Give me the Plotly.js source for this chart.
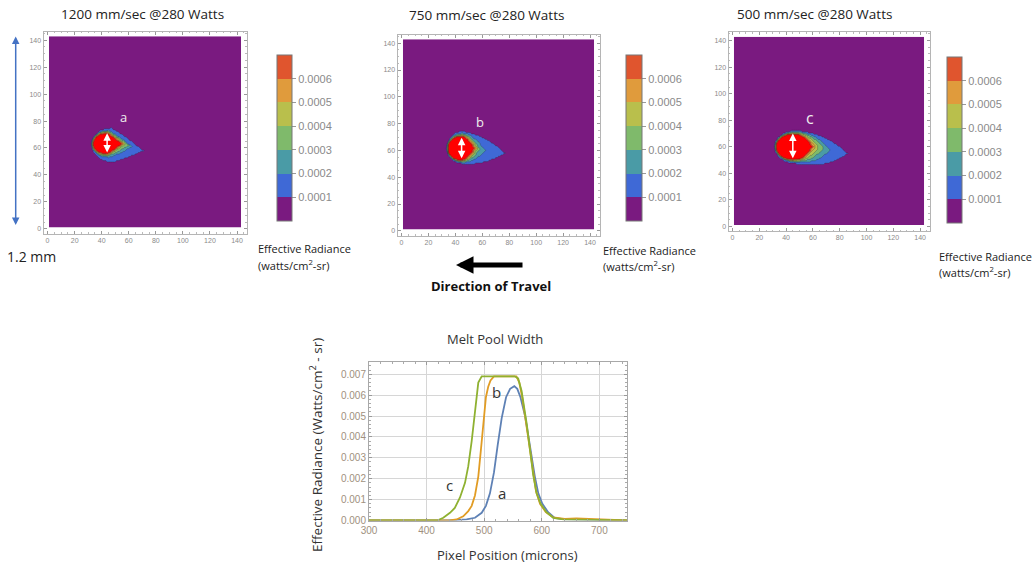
<!DOCTYPE html>
<html><head><meta charset="utf-8">
<script src="https://cdn.plot.ly/plotly-3.0.1.min.js"></script>
<style>html,body{margin:0;padding:0;background:#fff}#chart{width:1036px;height:567px}</style>
</head><body><div id="chart"></div>
<script>
// ================= DATA =================
// contour levels (effective radiance, watts/cm2-sr)
const levels = [0.0001, 0.0002, 0.0003, 0.0004, 0.0005, 0.0006, 0.0007];
const levelLabels = ['0.0001', '0.0002', '0.0003', '0.0004', '0.0005', '0.0006'];
const panelTitles = ['1200 mm/sec @280 Watts', '750 mm/sec @280 Watts', '500 mm/sec @280 Watts'];
const panelLetters = ['a', 'b', 'c'];
const gridTicks = [0, 20, 40, 60, 80, 100, 120, 140];

// extents of each contour level (pixels)
// panel a : 1200 mm/sec
const aLeft   = [32.3, 32.6, 32.8, 33.0, 33.2, 33.4, 33.8];
const aRight  = [71.0, 62.5, 60.0, 57.5, 56.2, 55.5, 54.5];
const aPeak   = [47.0, 45.0, 44.0, 44.0, 44.0, 44.0, 43.5];
const aTop    = [12.0, 10.0, 9.5, 9.0, 8.6, 8.3, 8.0];
const aBottom = [13.5, 10.0, 9.0, 8.5, 8.0, 7.8, 7.5];
const aTipDrop = [-5, -2, -1, 0, 0, 0, 0];
const aCenterY = 63;
const aTaper = 1.2;
// panel b : 750 mm/sec
const bLeft   = [33.5, 33.7, 33.9, 34.0, 34.1, 34.2, 34.3];
const bRight  = [77.0, 62.0, 58.2, 56.5, 55.5, 54.5, 53.5];
const bPeak   = [45.0, 45.0, 45.0, 44.5, 44.5, 44.5, 44.0];
const bTop    = [12.8, 11.5, 10.5, 10.0, 9.6, 9.3, 9.0];
const bBottom = [11.5, 10.5, 10.0, 9.6, 9.3, 9.1, 8.8];
const bTipDrop = [-3.5, -1.5, -0.5, 0, 0, 0, 0];
const bCenterY = 61.5;
const bTaper = 2.0;
// panel c : 500 mm/sec
const cLeft   = [31.1, 31.5, 31.8, 32.0, 32.2, 32.3, 32.4];
const cRight  = [86.0, 72.9, 67.9, 64.2, 61.7, 60.3, 59.2];
const cPeak   = [48.0, 47.0, 46.0, 45.5, 45.0, 45.0, 45.0];
const cTop    = [12.5, 11.5, 10.8, 10.3, 10.0, 9.7, 9.5];
const cBottom = [13.0, 11.5, 11.0, 10.5, 10.2, 10.0, 9.8];
const cTipDrop = [-5, -2.5, -1, -0.5, 0, 0, 0];
const cCenterY = 60;
const cTaper = 2.5;

// white width arrows and letter labels (pixel coords)
const widthArrowX = [44, 44.6, 45];
const widthArrowTop = [71, 69.5, 70];
const widthArrowBottom = [55.5, 53, 50.2];
const letterX = [55.8, 58.2, 57.9];
const letterY = [83, 81, 81.6];

// Melt pool width profiles
const xA = [300, 440, 469.6, 484, 495.7, 503, 510, 517, 523.4, 530.4, 538, 545, 552.3, 557.5, 563, 571, 577, 582, 588, 594, 601, 611, 622, 640, 700, 748];
const yA = [0, 0, 0.00005, 0.00013, 0.00037, 0.0007, 0.0013, 0.0023, 0.0036, 0.0049, 0.0059, 0.0063, 0.00643, 0.0063, 0.0059, 0.005, 0.004, 0.0031, 0.0021, 0.0013, 0.0008, 0.0004, 0.00013, 0.00005, 0.00001, 0];
const xB = [300, 440, 452, 463.6, 472.4, 478.3, 484, 489.8, 494.4, 498.5, 503, 507, 511, 517, 535, 556, 561, 566, 572, 578, 584, 590, 597, 607, 620, 640, 660, 680, 700, 748];
const yB = [0, 0, 0.00005, 0.0002, 0.00045, 0.0007, 0.0012, 0.0021, 0.0034, 0.0047, 0.0059, 0.0064, 0.0067, 0.0069, 0.0069, 0.0069, 0.0066, 0.0059, 0.0048, 0.0036, 0.0024, 0.0014, 0.0008, 0.0004, 0.00015, 0.00008, 0.0001, 0.00008, 0.00003, 0];
const xC = [300, 410, 420.3, 429, 440.6, 449, 458, 466.7, 472.4, 478.3, 484, 489.8, 495.7, 520, 553, 559, 565, 570, 574, 580, 585, 591, 598, 608, 620, 637, 700, 748];
const yC = [0, 0, 0.00002, 0.00013, 0.00037, 0.0006, 0.0011, 0.0018, 0.0026, 0.0038, 0.0051, 0.0066, 0.0069, 0.0069, 0.0069, 0.0068, 0.0062, 0.0053, 0.0046, 0.0033, 0.0022, 0.0013, 0.0008, 0.0004, 0.00013, 0.00005, 0.00001, 0];
const seriesNames = ['a', 'b', 'c'];
const seriesColors = ['#5e81b5', '#e19c24', '#8fb131'];
const seriesLabelX = [531.4, 521.7, 440.6];
const seriesLabelY = [0.00133, 0.00615, 0.0017];

// ================= STYLE / HELPERS =================
const W = 1036, H = 567;
const px = v => v / W;
const py = v => 1 - v / H;
const bandColors = ['#7a1a80', '#3f69d6', '#4a9ba6', '#7fba6b', '#b9bf4c', '#e09b3c', '#e0552e', '#ff0000'];
const FONT = 'Open Sans, Liberation Sans, sans-serif';

function stepped(colors) {
  const n = colors.length, cs = [];
  colors.forEach((c, i) => { cs.push([i / n, c]); cs.push([(i + 1) / n, c]); });
  return cs;
}
// contour fill map samples band k at k/(n-1): build steps centered there
function centeredSteps(colors) {
  const n = colors.length, m = n - 1, cs = [];
  colors.forEach((c, i) => {
    const a = Math.max(0, (i - 0.5) / m), b = Math.min(1, (i + 0.5) / m);
    cs.push([a, c]); cs.push([b, c]);
  });
  return cs;
}

const grid = [];
for (let g = 1; g <= 143; g++) grid.push(g);

function buildField(p) {
  const z = [];
  for (const y of grid) {
    const row = [];
    for (const x of grid) {
      let v = 0;
      for (let k = 0; k < levels.length; k++) {
        const L = p.left[k], R = p.right[k], P = p.peak[k];
        if (x < L || x > R) continue;
        let h, yc = p.cy;
        if (x <= P) { const s = (P - x) / (P - L); h = Math.sqrt(Math.max(0, 1 - s * s)); }
        else { const t = (x - P) / (R - P); h = 1 - Math.pow(t, p.taper); yc = p.cy + p.drop[k] * t; }
        const dy = y - yc;
        const ok = dy >= 0 ? dy <= p.top[k] * h : -dy <= p.bottom[k] * h;
        if (ok) v = levels[k] + 0.00005;
      }
      row.push(v);
    }
    z.push(row);
  }
  return z;
}

const panels = [
  {left: aLeft, right: aRight, peak: aPeak, top: aTop, bottom: aBottom, drop: aTipDrop, cy: aCenterY, taper: aTaper},
  {left: bLeft, right: bRight, peak: bPeak, top: bTop, bottom: bBottom, drop: bTipDrop, cy: bCenterY, taper: bTaper},
  {left: cLeft, right: cRight, peak: cPeak, top: cTop, bottom: cBottom, drop: cTipDrop, cy: cCenterY, taper: cTaper}
];
// frame boxes (px): [x0, x1, y0(top), y1(bottom)]
const frames = [[43.5, 246.5, 31.5, 233.5], [397.5, 599.5, 34.5, 235.5], [728.5, 929.5, 32, 231]];
// colorbars (px): [x, yTop, len, thickness]
const cbars = [[277, 55, 166, 15], [626, 55, 166, 16], [947, 57, 166, 15]];
const cbTitles = [[256, 249, 265], [600.5, 250, 266], [937, 257, 272]];
const titlePos = [[142.5, 14], [486.5, 15], [814, 14]];

const traces = [];
const layout = {
  width: W, height: H, margin: {l: 0, r: 0, t: 0, b: 0},
  paper_bgcolor: '#fff', plot_bgcolor: '#fff', showlegend: false,
  font: {family: FONT, color: '#333'},
  annotations: []
};

function note(x, y, text, font, extra) {
  return Object.assign({xref: 'paper', yref: 'paper', x: px(x), y: py(y), text: text, showarrow: false,
    xanchor: 'center', yanchor: 'middle', font: font}, extra || {});
}

panels.forEach((p, i) => {
  const xa = i === 0 ? 'x' : 'x' + (i + 1);
  const ya = i === 0 ? 'y' : 'y' + (i + 1);
  traces.push({
    type: 'contour', x: grid, y: grid, z: buildField(p), xaxis: xa, yaxis: ya,
    autocontour: false,
    contours: {start: levels[0], end: levels[levels.length - 1], size: 0.0001, coloring: 'fill', showlines: true},
    colorscale: centeredSteps(bandColors),
    line: {width: 0.6, color: 'rgba(40,40,40,0.45)', smoothing: 0},
    showscale: false, hoverinfo: 'skip'
  });
  const cb = cbars[i];
  traces.push({
    type: 'scatter', mode: 'markers', x: [-1000], y: [-1000], xaxis: xa, yaxis: ya, hoverinfo: 'skip',
    marker: {
      color: [0], cmin: 0, cmax: levels[levels.length - 1], opacity: 0,
      colorscale: stepped(bandColors.slice(0, 7)), showscale: true,
      colorbar: {
        x: px(cb[0]), xanchor: 'left', y: py(cb[1]), yanchor: 'top',
        len: cb[2], lenmode: 'pixels', thickness: cb[3], thicknessmode: 'pixels',
        xpad: 0, ypad: 0, outlinewidth: 1, outlinecolor: '#777',
        tickvals: levels.slice(0, 6), ticktext: levelLabels,
        ticks: 'outside', ticklen: 4, tickcolor: '#999',
        tickfont: {size: 11, color: '#8a8a8a', family: 'Liberation Sans, Arial, sans-serif'}
      }
    }
  });
  const f = frames[i];
  const axCommon = {
    showgrid: false, zeroline: false, showline: true, linecolor: '#b5b5b5', linewidth: 1,
    mirror: 'ticks', ticks: 'inside', ticklen: 3, tickcolor: '#999',
    tickvals: gridTicks, tickfont: {size: 7, color: '#8a8a8a', family: 'Liberation Sans, Arial, sans-serif'},
    minor: {ticks: 'inside', dtick: 5, ticklen: 1.5, tickcolor: '#bbb'}
  };
  layout['xaxis' + (i === 0 ? '' : i + 1)] = Object.assign({}, axCommon, {
    domain: [px(f[0]), px(f[1])], range: [-3, 147], anchor: ya
  });
  layout['yaxis' + (i === 0 ? '' : i + 1)] = Object.assign({}, axCommon, {
    domain: [py(f[3]), py(f[2])], range: [-3.5, 146.5], anchor: xa
  });
  // panel title
  layout.annotations.push(note(titlePos[i][0], titlePos[i][1], panelTitles[i], {size: 13.5, color: '#222', family: FONT}));
  // colorbar title
  const ct = cbTitles[i];
  layout.annotations.push(note(ct[0], ct[1], 'Effective Radiance', {size: 11, color: '#222', family: FONT}, {xanchor: 'left'}));
  layout.annotations.push(note(ct[0], ct[2], '(watts/cm<sup>2</sup>-sr)', {size: 11, color: '#222', family: FONT}, {xanchor: 'left'}));
  // white width arrow
  layout.annotations.push({xref: xa, yref: ya, axref: xa, ayref: ya, x: widthArrowX[i], y: widthArrowTop[i],
    ax: widthArrowX[i], ay: widthArrowBottom[i], text: '', showarrow: true, arrowside: 'end+start',
    arrowhead: 2, startarrowhead: 2, arrowsize: 1, startarrowsize: 1, arrowwidth: 1.5, arrowcolor: '#ffffff', standoff: 0, startstandoff: 0});
  // letter
  layout.annotations.push({xref: xa, yref: ya, x: letterX[i], y: letterY[i], text: panelLetters[i], showarrow: false,
    xanchor: 'center', yanchor: 'middle', font: {size: i === 2 ? 16 : 13, color: '#eeeeee', family: FONT}});
});

// ===== bottom line chart =====
const xs = [xA, xB, xC], ys = [yA, yB, yC];
[0, 1, 2].forEach(i => {
  traces.push({type: 'scatter', mode: 'lines', x: xs[i], y: ys[i], name: seriesNames[i], xaxis: 'x4', yaxis: 'y4',
    line: {color: seriesColors[i], width: 1.8}, hoverinfo: 'skip'});
  layout.annotations.push({xref: 'x4', yref: 'y4', x: seriesLabelX[i], y: seriesLabelY[i], text: seriesNames[i],
    showarrow: false, xanchor: 'center', yanchor: 'middle', font: {size: 15, color: '#333', family: FONT}});
});
const tickColor = '#a0907e';
layout.xaxis4 = {
  domain: [px(369), px(627)], range: [300, 748], anchor: 'y4',
  tickvals: [300, 400, 500, 600, 700], showgrid: true, gridcolor: '#d6d6d6', gridwidth: 1,
  zeroline: false, showline: true, linecolor: '#a8a8a8', mirror: 'ticks', ticks: 'inside', ticklen: 3, tickcolor: '#999',
  minor: {ticks: 'inside', dtick: 20, ticklen: 2, tickcolor: '#aaa', showgrid: false},
  tickfont: {size: 10, color: tickColor, family: 'Liberation Sans, Arial, sans-serif'}
};
layout.yaxis4 = {
  domain: [py(520.5), py(361.7)], range: [0, 0.0076], anchor: 'x4',
  tickvals: [0, 0.001, 0.002, 0.003, 0.004, 0.005, 0.006, 0.007], tickformat: '.3f',
  showgrid: true, gridcolor: '#d6d6d6', gridwidth: 1,
  zeroline: false, showline: true, linecolor: '#a8a8a8', mirror: 'ticks', ticks: 'inside', ticklen: 3, tickcolor: '#999',
  minor: {ticks: 'inside', dtick: 0.0002, ticklen: 2, tickcolor: '#aaa', showgrid: false},
  tickfont: {size: 10, color: tickColor, family: 'Liberation Sans, Arial, sans-serif'}
};
layout.annotations.push(
  note(495, 339, 'Melt Pool Width', {size: 13, color: '#333', family: FONT}),
  note(316, 445, 'Effective Radiance (Watts/cm<sup>2</sup> - sr)', {size: 13.5, color: '#333', family: FONT}, {textangle: -90}),
  note(507, 555, 'Pixel Position (microns)', {size: 13, color: '#333', family: FONT}),
  // 1.2 mm scale arrow
  {xref: 'paper', yref: 'paper', x: px(15.7), y: py(36.5), ax: 0, ay: 190, text: '', showarrow: true,
    arrowside: 'end+start', arrowhead: 2, startarrowhead: 2, arrowsize: 1, startarrowsize: 1, arrowwidth: 1.5, arrowcolor: '#4472c4'},
  note(31.5, 257, '1.2 mm', {size: 14, color: '#222', family: FONT}),
  // direction of travel
  {xref: 'paper', yref: 'paper', x: px(456), y: py(265), ax: 68, ay: 0, text: '', showarrow: true,
    arrowhead: 2, arrowsize: 0.7, arrowwidth: 5, arrowcolor: '#000'},
  note(490.5, 286, '<b>Direction of Travel</b>', {size: 13, color: '#111', family: FONT})
);

Plotly.newPlot('chart', traces, layout, {staticPlot: true, displayModeBar: false});
</script></body></html>
